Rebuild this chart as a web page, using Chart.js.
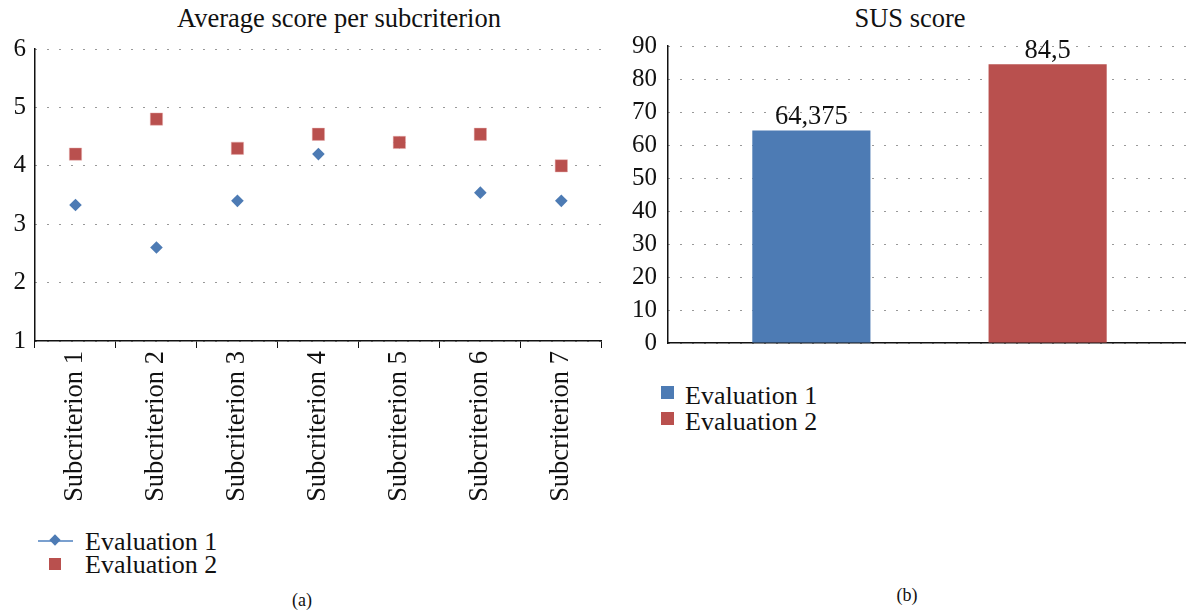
<!DOCTYPE html>
<html>
<head>
<meta charset="utf-8">
<script src="https://cdn.jsdelivr.net/npm/chart.js@4/dist/chart.umd.min.js"></script>
<style>
  body { margin: 0; background: #fff; font-family: "Liberation Serif", serif; color: #111; }
  #page { position: relative; width: 1186px; height: 614px; overflow: hidden; }
  canvas { position: absolute; }
  .title { position: absolute; font-size: 26.5px; line-height: 30px; white-space: nowrap; transform: translateX(-50%); }
  .legend { position: absolute; font-size: 26px; line-height: 23px; }
  .legend div { position: relative; height: 23px; padding-left: 47px; white-space: nowrap; }
  .sub { position: absolute; font-size: 18px; transform: translateX(-50%); }
</style>
</head>
<body>
<div id="page">
  <div class="title" style="left:339px; top:3px;">Average score per subcriterion</div>
  <div class="title" style="left:910px; top:3px;">SUS score</div>
  <canvas id="grafico-puntajes" width="611" height="520" style="left:0; top:0;"></canvas>
  <canvas id="grafico-sus" width="591" height="369" style="left:600px; top:0;"></canvas>

  <div class="legend" id="legend-a" style="left:38px; top:530px;"></div>
  <div class="legend" id="legend-b" style="left:661px; top:384px;"></div>

  <div class="sub" style="left:302px; top:590px;">(a)</div>
  <div class="sub" style="left:907px; top:585px;">(b)</div>
</div>

<script>
// datos
const subcriterios = ['Subcriterion 1', 'Subcriterion 2', 'Subcriterion 3', 'Subcriterion 4',
                      'Subcriterion 5', 'Subcriterion 6', 'Subcriterion 7'];
const evaluacion1 = [3.33, 2.6, 3.4, 4.2, 4.4, 3.54, 3.4];
const evaluacion2 = [4.2, 4.8, 4.3, 4.54, 4.4, 4.54, 4.0];
const series = ['Evaluation 1', 'Evaluation 2'];
const susScores = [64.375, 84.5];

const azul = '#4d7bb4';
const rojo = '#b9504e';
const fuente = '"Liberation Serif", serif';

// grafico (a)
new Chart(document.getElementById('grafico-puntajes').getContext('2d'), {
    type: 'line',
    data: {
        labels: subcriterios,
        datasets: [
            {
                label: series[0],
                data: evaluacion1,
                showLine: false,
                pointStyle: 'rectRot',
                pointRadius: 6.3,
                backgroundColor: azul,
                borderColor: azul,
                borderWidth: 0,
                order: 1,
            },
            {
                label: series[1],
                data: evaluacion2,
                showLine: false,
                pointStyle: 'rect',
                pointRadius: 8.7,
                backgroundColor: rojo,
                borderColor: 'rgba(230,170,170,0.9)',
                borderWidth: 0.5,
                order: 0,
            },
        ],
    },
    options: {
        responsive: false,
        animation: false,
        layout: { padding: { top: 49, left: 0, right: 0, bottom: 0 } },
        plugins: { legend: { display: false }, tooltip: { enabled: false } },
        scales: {
            x: {
                offset: true,
                afterFit: (scale) => { scale.height = 179; },
                grid: { display: true, offset: true, drawOnChartArea: false, drawTicks: true, tickLength: 7, color: '#111', lineWidth: 1 },
                border: { display: true, color: '#111', width: 1.5 },
                ticks: { maxRotation: 90, minRotation: 90, padding: 3, color: '#111', font: { family: fuente, size: 26.5 } },
            },
            y: {
                min: 1,
                max: 6,
                afterFit: (scale) => { scale.width = 35; },
                grid: { color: '#333', lineWidth: 1, drawTicks: false },
                border: { display: true, color: '#111', width: 1.5, dash: [1, 11] },
                ticks: { stepSize: 1, padding: 9, color: '#111', font: { family: fuente, size: 25 } },
            },
        },
    },
});

// etiquetas sobre las barras
const etiquetasBarras = {
    id: 'etiquetasBarras',
    afterDatasetsDraw(chart) {
        const ctx = chart.ctx;
        ctx.save();
        ctx.font = '26.5px ' + fuente;
        ctx.fillStyle = '#111';
        ctx.textAlign = 'center';
        ctx.textBaseline = 'bottom';
        chart.data.datasets.forEach((ds, i) => {
            chart.getDatasetMeta(i).data.forEach((bar, j) => {
                ctx.fillText(String(ds.data[j]).replace('.', ','), bar.x, bar.y);
            });
        });
        ctx.restore();
    },
};

// grafico (b)
new Chart(document.getElementById('grafico-sus').getContext('2d'), {
    type: 'bar',
    data: {
        labels: ['SUS score'],
        datasets: series.map((nombre, i) => ({
            label: nombre,
            data: [susScores[i]],
            backgroundColor: i === 0 ? azul : rojo,
            categoryPercentage: 0.9035,
            barPercentage: 0.5,
        })),
    },
    options: {
        responsive: false,
        animation: false,
        layout: { padding: { top: 46, left: 0, right: 0, bottom: 0 } },
        plugins: { legend: { display: false }, tooltip: { enabled: false } },
        scales: {
            x: {
                afterFit: (scale) => { scale.height = 17; },
                grid: { display: false },
                border: { display: true, color: '#111', width: 1.5 },
                ticks: { display: false },
            },
            y: {
                min: 0,
                max: 90,
                afterFit: (scale) => { scale.width = 68; },
                grid: { color: '#333', lineWidth: 1, drawTicks: false },
                border: { display: true, color: '#111', width: 1.5, dash: [1, 11] },
                ticks: { stepSize: 10, padding: 11, color: '#111', font: { family: fuente, size: 25 } },
            },
        },
    },
    plugins: [etiquetasBarras],
});

// leyendas
const legendA = document.getElementById('legend-a');
legendA.innerHTML =
    '<div><span style="position:absolute;left:0;top:10px;width:35px;height:2px;background:#7aa0cf;"></span>' +
    '<span style="position:absolute;left:13px;top:6px;width:8px;height:8px;background:' + azul + ';transform:rotate(45deg);"></span>' + series[0] + '</div>' +
    '<div><span style="position:absolute;left:11px;top:5px;width:12px;height:12px;background:' + rojo + ';"></span>' + series[1] + '</div>';

const legendB = document.getElementById('legend-b');
legendB.innerHTML = series.map((nombre, i) =>
    '<div style="padding-left:24px;height:26px;"><span style="position:absolute;left:0;top:2px;width:13px;height:13px;background:' +
    (i === 0 ? azul : rojo) + ';"></span>' + nombre + '</div>').join('');
</script>
</body>
</html>
